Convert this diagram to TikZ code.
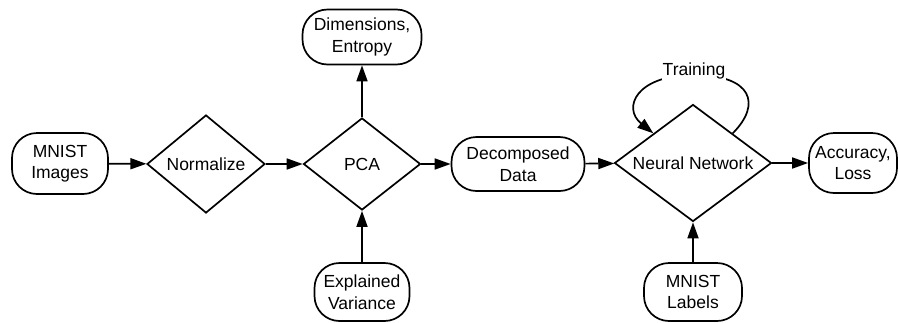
\documentclass[tikz,border=0pt]{standalone}
\usepackage{fontspec}
\setmainfont{Liberation Sans}
\usetikzlibrary{shapes,arrows.meta}

\begin{document}
\begin{tikzpicture}[x=1pt,y=-1pt,line width=1.7pt,
        every node/.style={font=\fontsize{17.5}{21.5}\selectfont,align=center},
        term/.style={draw,rectangle,rounded corners=25pt,inner sep=0pt},
        decision/.style={draw,diamond,inner sep=0pt,aspect=1.3},
        flow/.style={-{Triangle[length=16pt,width=11pt]}}]
        \useasboundingbox (0,0) rectangle (899,322);
        % inputs and outputs
        \node[term,minimum width=96pt,minimum height=61pt] (img) at (60,163.5) {MNIST\\Images};
        \node[term,minimum width=119pt,minimum height=55pt] (dims) at (362,37) {Dimensions,\\Entropy};
        \node[term,minimum width=95pt,minimum height=58pt] (var) at (362,292) {Explained\\Variance};
        \node[term,minimum width=133pt,minimum height=54pt] (dec) at (518,164) {Decomposed\\Data};
        \node[term,minimum width=88pt,minimum height=60pt] (acc) at (853,163) {Accuracy,\\Loss};
        \node[term,minimum width=98pt,minimum height=58pt] (lab) at (693,292) {MNIST\\Labels};
        % processing steps
        \node[decision,minimum width=118pt,minimum height=98pt] (norm) at (206,164) {Normalize};
        \node[decision,minimum width=117pt,minimum height=92pt] (pca) at (362,164) {PCA};
        \node[decision,minimum width=157pt,minimum height=117pt] (nn) at (693,163) {Neural Network};
        % connectors
        \draw[flow] (img) -- (norm);
        \draw[flow] (norm) -- (pca);
        \draw[flow] (pca) -- (dims);
        \draw[flow] (var) -- (pca);
        \draw[flow] (pca) -- (dec);
        \draw[flow] (dec) -- (nn);
        \draw[flow] (nn) -- (acc);
        \draw[flow] (lab) -- (nn);
        \draw[flow] (nn.north east) .. controls (762,104) and (752,75) .. (694,75)
                .. controls (636,75) and (622,108) .. (nn.north west);
        \node[fill=white,inner sep=1pt] (train) at (694,71) {Training};
\end{tikzpicture}
\end{document}
